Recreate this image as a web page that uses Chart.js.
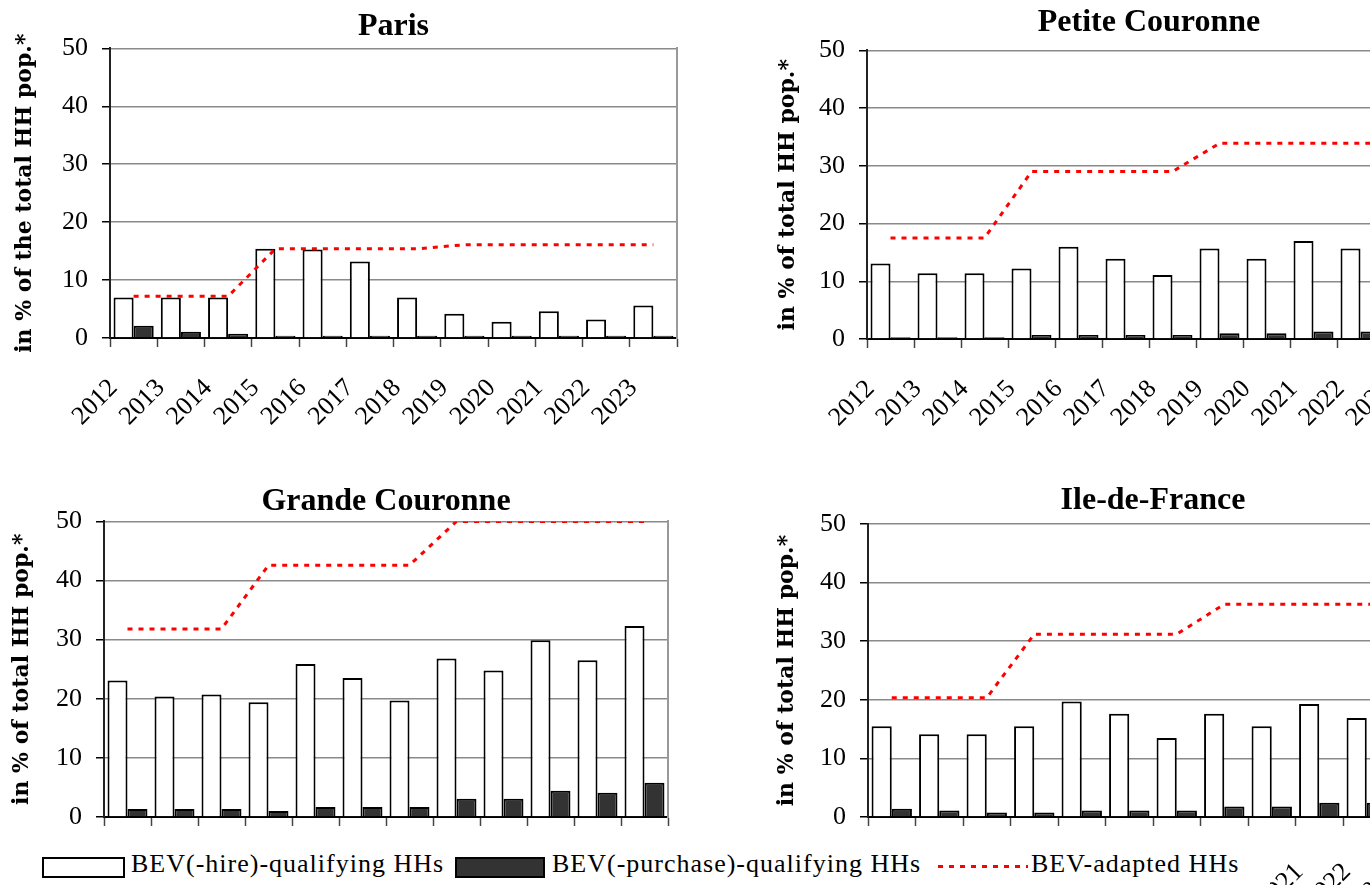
<!DOCTYPE html>
<html lang="en">
<head>
  <meta charset="UTF-8">
  <title>BEV qualifying households</title>
  <script src="https://cdn.jsdelivr.net/npm/chart.js"></script>
  <style>
    html, body {
      margin: 0;
      padding: 0;
      width: 1370px;
      height: 885px;
      overflow: hidden;
      background: #fff;
      position: relative;
    }
    canvas { position: absolute; }
    #paris { left: 0; top: 0; }
    #petite { left: 760px; top: 0; }
    #grande { left: 0; top: 470px; }
    #idf { left: 760px; top: 470px; }

    /* shared legend under the bottom charts */
    .legend {
      position: absolute;
      left: 0;
      top: 845px;
      width: 1270px;
      height: 40px;
      background: #fff;
      z-index: 2;
      font-family: "Liberation Serif", serif;
      font-size: 26px;
      letter-spacing: 1px;
      color: #000;
    }
    .legend .box {
      position: absolute;
      top: 12px;
      height: 17px;
      border: 2px solid #000;
    }
    .legend .txt {
      position: absolute;
      top: 4px;
      line-height: 30px;
      white-space: nowrap;
    }
    .legend .dash {
      position: absolute;
      top: 20px;
      height: 3px;
      background: repeating-linear-gradient(90deg, #ff0000 0 5px, transparent 5px 11px);
    }
  </style>
</head>
<body>

  <canvas id="paris" width="690" height="440"></canvas>
  <canvas id="petite" width="700" height="440"></canvas>
  <canvas id="grande" width="690" height="440"></canvas>
  <canvas id="idf" width="700" height="440"></canvas>

  <div class="legend">
    <div class="box" style="left:42px; width:79px; background:#fff;"></div>
    <div class="txt" style="left:131px;">BEV(-hire)-qualifying HHs</div>
    <div class="box" style="left:455px; width:86px; background:#333;"></div>
    <div class="txt" style="left:552px;">BEV(-purchase)-qualifying HHs</div>
    <div class="dash" style="left:938px; width:90px;"></div>
    <div class="txt" style="left:1031px;">BEV-adapted HHs</div>
  </div>

  <script>
    // Data (% of total household population)
    const years = ['2012', '2013', '2014', '2015', '2016', '2017', '2018', '2019', '2020', '2021', '2022', '2023'];

    const parisHire = [7.0, 7.0, 7.0, 15.4, 15.3, 13.2, 7.0, 4.2, 2.8, 4.6, 3.2, 5.6];
    const parisPurchase = [2.1, 1.1, 0.75, 0.4, 0.4, 0.4, 0.4, 0.4, 0.4, 0.4, 0.4, 0.4];
    const parisAdapted = [7.2, 7.2, 7.2, 15.4, 15.4, 15.4, 15.4, 16.1, 16.1, 16.1, 16.1, 16.1];

    const petiteHire = [13.1, 11.4, 11.4, 12.2, 16.0, 13.9, 11.1, 15.7, 13.9, 17.0, 15.7, 18.0];
    const petitePurchase = [0.3, 0.3, 0.3, 0.7, 0.7, 0.7, 0.7, 1.0, 1.0, 1.3, 1.3, 1.6];
    const petiteAdapted = [17.5, 17.5, 17.5, 29.0, 29.0, 29.0, 29.0, 33.9, 33.9, 33.9, 33.9, 33.9];

    const grandeHire = [23.1, 20.4, 20.7, 19.4, 25.9, 23.5, 19.7, 26.8, 24.8, 29.9, 26.5, 32.3];
    const grandePurchase = [1.35, 1.35, 1.35, 1.0, 1.7, 1.7, 1.7, 3.1, 3.1, 4.45, 4.1, 5.8];
    const grandeAdapted = [31.8, 31.8, 31.8, 42.6, 42.6, 42.6, 42.6, 50, 50, 50, 50, 50];

    const idfHire = [15.5, 14.1, 14.1, 15.5, 19.7, 17.6, 13.5, 17.6, 15.5, 19.3, 16.9, 21.0];
    const idfPurchase = [1.4, 1.1, 0.75, 0.75, 1.1, 1.1, 1.1, 1.8, 1.8, 2.45, 2.45, 3.0];
    const idfAdapted = [20.35, 20.35, 20.35, 31.2, 31.2, 31.2, 31.2, 36.3, 36.3, 36.3, 36.3, 36.3];

    Chart.defaults.font.family = '"Liberation Serif", serif';
    Chart.defaults.color = '#000';

    // builds one panel; lay holds the pixel fitting of that panel
    function makePanel(id, title, yTitle, hire, purchase, adapted, lay) {
      return new Chart(document.getElementById(id), {
        type: 'bar',
        data: {
          labels: years,
          datasets: [
            {
              type: 'line',
              label: 'BEV-adapted HHs',
              data: adapted,
              borderColor: '#ff0000',
              borderWidth: 3,
              borderDash: [5, 6],
              pointRadius: 0,
              tension: 0,
              fill: false,
              order: 0
            },
            {
              label: 'BEV(-hire)-qualifying HHs',
              data: hire,
              backgroundColor: '#ffffff',
              borderColor: '#000000',
              borderWidth: 2,
              categoryPercentage: 0.85,
              barPercentage: 1.0,
              order: 1
            },
            {
              label: 'BEV(-purchase)-qualifying HHs',
              data: purchase,
              backgroundColor: '#333333',
              borderColor: '#000000',
              borderWidth: 2,
              categoryPercentage: 0.85,
              barPercentage: 1.0,
              order: 1
            }
          ]
        },
        options: {
          responsive: false,
          animation: false,
          devicePixelRatio: 1,
          layout: { padding: { left: 0, right: lay.right, top: 0, bottom: lay.bottom } },
          plugins: {
            legend: { display: false },
            tooltip: { enabled: false },
            title: {
              display: true,
              text: title,
              fullSize: false,
              color: '#000',
              font: { family: '"Liberation Serif", serif', size: 32, weight: 'bold' },
              padding: { top: lay.titleTop, bottom: lay.titleBottom }
            }
          },
          scales: {
            x: {
              offset: true,
              grid: { offset: true, drawOnChartArea: false, drawTicks: true, tickLength: 9, tickColor: '#444', tickWidth: 1.5 },
              border: { color: '#000', width: 2 },
              ticks: { autoSkip: false, minRotation: 45, maxRotation: 45, labelOffset: -20, padding: lay.xPad, color: '#000', font: { size: 26 } },
              afterFit: s => {
                s.height = 90;
                s.paddingLeft = 0;
                s.paddingRight = 0;
              }
            },
            y: {
              min: 0,
              max: 50,
              ticks: { stepSize: 10, padding: 14, color: '#000', font: { size: 26 } },
              grid: { color: '#8a8a8a', lineWidth: 1.5, drawTicks: true, tickLength: 8, tickColor: '#000' },
              border: { color: '#222', width: 2 },
              title: {
                display: true,
                text: yTitle,
                color: '#000',
                font: { family: '"DejaVu Serif", serif', size: 22, weight: 'bold' },
                padding: { top: lay.yTitlePad, bottom: 0 }
              },
              afterFit: s => { s.width = lay.yWidth; }
            },
            yr: {
              position: 'right',
              min: 0,
              max: 50,
              ticks: { display: false },
              grid: { drawOnChartArea: false, drawTicks: false },
              border: { color: '#999', width: 2 },
              afterFit: s => { s.width = 0; }
            }
          }
        }
      });
    }

    makePanel('paris', 'Paris', 'in % of the total HH pop.*', parisHire, parisPurchase, parisAdapted,
      { yWidth: 110, right: 13, bottom: 12, titleTop: 8, titleBottom: 2, yTitlePad: 12, xPad: 26 });

    makePanel('petite', 'Petite Couronne', 'in % of total HH pop.*', petiteHire, petitePurchase, petiteAdapted,
      { yWidth: 107, right: 29, bottom: 11, titleTop: 4, titleBottom: 8, yTitlePad: 15, xPad: 26 });

    makePanel('grande', 'Grande Couronne', 'in % of total HH pop.*', grandeHire, grandePurchase, grandeAdapted,
      { yWidth: 104, right: 22, bottom: 3, titleTop: 12.5, titleBottom: 0.5, yTitlePad: 9, xPad: 31 });

    makePanel('idf', 'Ile-de-France', 'in % of total HH pop.*', idfHire, idfPurchase, idfAdapted,
      { yWidth: 108, right: 22, bottom: 3, titleTop: 12, titleBottom: 3.6, yTitlePad: 14, xPad: 31 });
  </script>

</body>
</html>
